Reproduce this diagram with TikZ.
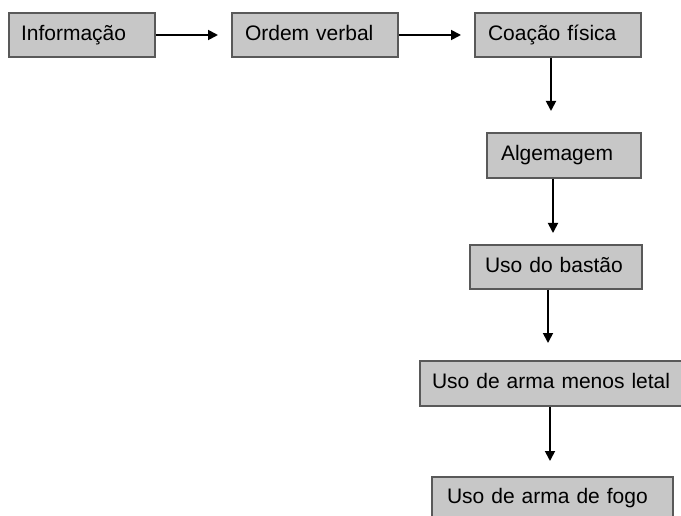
\documentclass[tikz,border=0pt]{standalone}
\usepackage{fontspec}
\setmainfont{Liberation Sans}
\usetikzlibrary{arrows.meta}
\begin{document}
\begin{tikzpicture}[x=1pt,y=1pt,
  box/.style={draw=black!65, line width=1.5pt, fill=black!22, rectangle, inner sep=0pt,
    font=\fontsize{21}{25}\selectfont, text height=15pt, text depth=4.5pt, align=left},
  arr/.style={line width=1.8pt, -{Triangle[length=10pt,width=10pt]}}]
\useasboundingbox (0,0) rectangle (681,-516);
\node[box, minimum width=146, minimum height=44, text width=122] (b1) at (82,-35) {Informação};
\node[box, minimum width=166, minimum height=44, text width=140] (b2) at (315,-35) {Ordem verbal};
\node[box, minimum width=166, minimum height=44, text width=140] (b3) at (558,-35) {Coação física};
\node[box, minimum width=154, minimum height=45, text width=126] (b4) at (564,-155.5) {Algemagem};
\node[box, minimum width=172, minimum height=44, text width=142] (b5) at (556,-267) {Uso do bastão};
\node[box, minimum width=262, minimum height=45, text width=252] (b6) at (551,-383.5) {\hspace*{7pt}Uso de arma menos letal};
\node[box, minimum width=241, minimum height=42, text width=211] (b7) at (552.5,-498) {Uso de arma de fogo};
% arrow ends
\coordinate (e1) at (218,-35);
\coordinate (e2) at (461,-35);
\coordinate (e3) at (551,-111);
\coordinate (e4) at (553,-233);
\coordinate (e5) at (548,-343);
\coordinate (e6) at (550,-461);
\draw[arr] (b1.east) -- (e1);
\draw[arr] (b2.east) -- (e2);
\draw[arr] (b3.south -| e3) -- (e3);
\draw[arr] (b4.south -| e4) -- (e4);
\draw[arr] (b5.south -| e5) -- (e5);
\draw[arr] (b6.south -| e6) -- (e6);
\end{tikzpicture}
\end{document}
